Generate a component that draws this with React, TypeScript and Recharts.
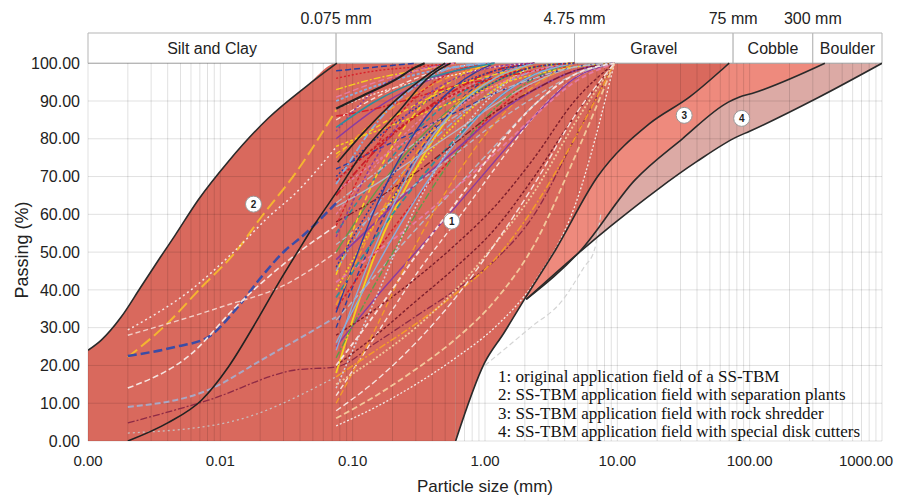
import { ComposedChart, Area, Line, XAxis, YAxis, ReferenceLine, ReferenceArea, ReferenceDot } from 'recharts'

type Pt = [number, number]

const X_TICKS = [0.001, 0.01, 0.1, 1, 10, 100, 1000]
const Y_TICKS = [0, 10, 20, 30, 40, 50, 60, 70, 80, 90, 100]
const SIEVES = [0.075, 0.15, 0.3, 0.6, 1.18, 2.36, 4.75, 9.5]

// soil classes shown in the header band (mm)
const CLASS_NAMES = ['Silt and Clay', 'Sand', 'Gravel', 'Cobble', 'Boulder']
const CLASS_LIMITS = [0.001, 0.075, 4.75, 75, 300, 1000]
const LIMIT_LABELS = ['0.075 mm', '4.75 mm', '75 mm', '300 mm']

// boundaries of the application fields
const field2Upper: Pt[] = [
  [0.001, 24], [0.00126, 26.7], [0.00178, 32.8], [0.0025, 40.7], [0.0035, 48.5], [0.00456, 54.5],
  [0.0068, 63.8], [0.0115, 74], [0.0231, 85.5], [0.044, 93.7], [0.076, 100],
]
const field1Lower: Pt[] = [
  [0.6, 0], [0.99, 20.6], [1.39, 28.6], [1.97, 37.3], [3.4, 50.5], [7.1, 70], [17.5, 84], [35, 91], [65, 99], [70, 100],
]
const field3Lower: Pt[] = [
  [2.05, 37.5], [5.3, 50.5], [13.5, 69], [31, 80], [69, 89.7], [83, 91], [104, 92], [370, 100],
]
const field4Lower: Pt[] = [
  [2.05, 37.5], [5.6, 51], [9, 57], [20, 66.5], [40, 74], [80, 80.5], [100, 82], [333, 91], [1000, 100],
]

// black grading curves
const blackCurves: Pt[][] = [
  [[0.002, 0], [0.004, 4.8], [0.0072, 10.8], [0.0115, 19.6], [0.0184, 31.2], [0.0275, 41.8], [0.039, 50.5],
    [0.052, 57.5], [0.076, 66], [0.12, 76.5], [0.22, 87], [0.39, 96.8], [0.55, 100]],
  [[0.077, 73.8], [0.121, 81.7], [0.219, 90.7], [0.31, 95], [0.45, 99], [0.5, 100]],
  [[0.075, 88], [0.121, 91.5], [0.219, 96], [0.29, 98.7], [0.35, 100]],
]

// fine-grained soils (silt / clay) curves
const siltCurves: Pt[][] = [
  [[0.002, 22.2], [0.004, 31.2], [0.0072, 40.7], [0.013, 50], [0.0204, 59.3], [0.037, 70.9], [0.075, 87.6]],
  [[0.002, 22.5], [0.00456, 24.9], [0.0081, 27.5], [0.013, 34.7], [0.0204, 43.4], [0.031, 50.5], [0.041, 54], [0.075, 63]],
  [[0.002, 29.4], [0.006, 40], [0.013, 50.5], [0.0231, 59.3], [0.037, 65.6], [0.075, 77.8]],
  [[0.002, 28], [0.01, 35.4], [0.0327, 41.8], [0.075, 50]],
  [[0.002, 14], [0.006, 23], [0.013, 35.4], [0.0204, 41.8], [0.041, 50.5], [0.075, 57]],
  [[0.002, 9], [0.0081, 13.5], [0.0204, 21.4], [0.075, 32.8]],
  [[0.002, 4.8], [0.0081, 10.8], [0.037, 18.8], [0.075, 19.6], [0.15, 26], [0.3, 33], [0.6, 40], [1.2, 48], [2.36, 60], [4.75, 80], [9.5, 100]],
  [[0.002, 2.1], [0.011, 4.8], [0.075, 17]],
]
const siltColors = ['#f4b531', '#3b4ca6', '#f3e6e3', '#f1cfc8', '#f4e4e0', '#a9a8c4', '#8e2a45', '#c9bcbc']
const siltDashes = ['12 5', '9 4', '2 3', '5 3', '6 3', '6 3', '7 2 2 2', '2 3']
const siltWidths = [2, 2.5, 1.5, 1.4, 1.6, 2, 1.3, 1.3]

// sand curves: passing (%) at each sieve in SIEVES
const sandPassing: number[][] = [
  [18, 50, 72, 88, 96, 100],
  [12, 28, 44, 58, 72, 86, 96, 100],
  [20, 28, 37, 46, 56, 70, 86, 100],
  [17, 24, 31, 39, 48, 62, 80, 100],
  [4, 9, 15, 22, 30, 42, 62, 100],
  [6, 12, 19, 27, 37, 52, 75, 100],
  [25, 38, 50, 62, 74, 86, 96, 100],
  [30, 55, 75, 89, 97, 100],
  [35, 50, 64, 76, 87, 95, 100],
  [45, 62, 75, 85, 93, 98, 100],
  [40, 58, 72, 84, 93, 99, 100],
  [32, 44, 56, 67, 78, 89, 97, 100],
  [50, 66, 79, 89, 95, 99, 100],
  [55, 70, 82, 91, 97, 100],
  [60, 73, 84, 92, 97, 100],
  [65, 77, 86, 93, 98, 100],
  [70, 80, 88, 94, 98, 100],
  [75, 85, 92, 97, 100],
  [80, 88, 94, 98, 100],
  [85, 91, 96, 99, 100],
  [90, 94, 97, 99, 100],
  [93, 96, 98, 100],
  [96, 98, 99, 100],
  [98, 99, 100],
  [62, 68, 75, 82, 89, 95, 99, 100],
  [42, 50, 58, 67, 76, 86, 95, 100],
  [28, 35, 43, 52, 62, 75, 90, 100],
  [22, 42, 60, 76, 88, 96, 100],
  [14, 38, 62, 80, 92, 99, 100],
  [10, 30, 52, 70, 84, 94, 100],
  [48, 58, 68, 77, 86, 93, 98, 100],
  [72, 77, 82, 87, 92, 96, 99, 100],
  [78, 82, 86, 90, 94, 97, 99, 100],
  [86, 88, 91, 94, 96, 98, 100],
  [88, 92, 95, 97, 99, 100],
  [38, 54, 68, 80, 90, 97, 100],
  [26, 46, 64, 79, 90, 97, 100],
  [52, 60, 68, 76, 84, 91, 97, 100],
  [66, 74, 81, 88, 94, 98, 100],
  [58, 64, 71, 79, 87, 93, 98, 100],
  [15, 22, 30, 40, 52, 66, 84, 100],
  [8, 16, 26, 38, 52, 68, 86, 100],
  [34, 62, 82, 94, 100],
  [44, 70, 87, 96, 100],
  [57, 78, 91, 98, 100],
  [68, 84, 94, 99, 100],
  [82, 93, 98, 100],
  [91, 95, 98, 100],
  [83, 90, 95, 98, 100],
  [76, 83, 89, 94, 97, 99, 100],
  [69, 78, 86, 92, 96, 99, 100],
  [63, 71, 79, 86, 92, 96, 99, 100],
  [46, 64, 78, 88, 95, 99, 100],
  [36, 58, 76, 89, 96, 100],
  [24, 52, 74, 88, 96, 100],
  [20, 34, 49, 63, 77, 89, 97, 100],
  [54, 75, 89, 96, 99, 100],
]
const sandColors = [
  '#f4d21f', '#f6e1dc', '#7d1e2c', '#f39c2a', '#f3ece8', '#f2c79a', '#8b3c9f', '#2c3f9f', '#d8202a', '#86aede',
  '#f4d21f', '#b7b7c4', '#5f9b4b', '#2f8e9c', '#e57ca3', '#c81e2a', '#2c3f9f', '#f39c2a', '#8b3c9f', '#f6e1dc',
  '#86aede', '#f4d21f', '#d8202a', '#2c3f9f', '#b7b7c4', '#e57ca3', '#7d1e2c', '#5f9b4b', '#d0d0da', '#f39c2a',
  '#8b3c9f', '#2c3f9f', '#f4d21f', '#d8202a', '#f6e1dc', '#2f8e9c', '#86aede', '#b7b7c4', '#e57ca3', '#7d1e2c',
  '#f2c79a', '#f6e1dc', '#2c3f9f', '#f4d21f', '#d8202a', '#86aede', '#8b3c9f', '#e57ca3', '#2f8e9c', '#f4d21f',
  '#c81e2a', '#b7b7c4', '#2c3f9f', '#f39c2a', '#86aede', '#f6e1dc', '#8b3c9f',
]
const DASHES = ['', '5 3', '3 2', '7 2 2 2', '2 2', '6 3']
const WIDTHS = [1.8, 1.4, 1.4, 1.5, 1.3]

// faint curve outside the fields
const outsideCurve: Pt[] = [[1.0, 20], [2.2, 30], [3.8, 37], [5.6, 46], [6.7, 50.5], [7.5, 60]]

const FIELD_TAGS = ['1', '2', '3', '4']
const TAG_X = [0.56, 0.0178, 32, 87]
const TAG_Y = [58.2, 62.7, 86.2, 85.4]

const LEGEND = [
  '1: original application field of a SS-TBM',
  '2: SS-TBM application field with separation plants',
  '3: SS-TBM application field with rock shredder',
  '4: SS-TBM application field with special disk cutters',
]

const FONT = '"Liberation Sans", Arial, sans-serif'
const W = 886
const H = 489
const RED = '#d9695d'

const pts = (a: Pt[]) => a.map(([x, y]) => ({ x, y }))
const toTop = (a: Pt[]) => a.map(([x, y]) => ({ x, v: [y, 100] }))

const fieldRedLeft: Pt[] = [...field2Upper, [0.6, 100]]
const minorX: number[] = []
for (let d = 0.001; d < 999; d *= 10) for (let m = 1; m <= 9; m++) minorX.push(+(d * m).toPrecision(3))
minorX.push(1000)

function XTick(props: any) {
  const { x, y, payload } = props
  const v = Number(payload.value)
  return (
    <text x={v >= 1000 ? x - 12 : x} y={y} dy="0.71em" textAnchor="middle" fontSize={15} fill="#222" fontFamily={FONT}>
      {v.toFixed(2)}
    </text>
  )
}

export default function App() {
  return (
    <div style={{ position: 'relative', width: W, height: H, fontFamily: FONT }}>
      <ComposedChart width={W} height={H} margin={{ top: 25, right: 12, bottom: 26, left: 9 }}>
        <XAxis
          type="number" dataKey="x" scale="log" domain={[0.001, 1000]} ticks={X_TICKS} allowDataOverflow
          axisLine={false} tickLine={false} tickSize={6} tickMargin={8} height={30} tick={<XTick />}
          label={{ value: 'Particle size (mm)', position: 'bottom', offset: 9, fontSize: 17, fill: '#222', fontFamily: FONT }}
        />
        <YAxis
          type="number" domain={[0, 108]} ticks={Y_TICKS} allowDataOverflow width={71}
          tickFormatter={(v) => Number(v).toFixed(2)} axisLine={false} tickLine={false} tickSize={6} tickMargin={2}
          tick={{ fontSize: 16, fill: '#222', fontFamily: FONT }}
        />

        <Area data={toTop(field4Lower)} dataKey="v" type="monotone" fill="#dcaaa5" fillOpacity={1} stroke="none" isAnimationActive={false} />
        <Area data={toTop(field3Lower)} dataKey="v" type="monotone" fill="#ee8a7d" fillOpacity={1} stroke="none" isAnimationActive={false} />
        <Area data={toTop(field1Lower)} dataKey="v" type="monotone" fill={RED} fillOpacity={1} stroke="none" isAnimationActive={false} />
        <Area data={pts(fieldRedLeft)} dataKey="y" type="monotone" fill={RED} fillOpacity={1} stroke="none" isAnimationActive={false} />

        {Y_TICKS.map((v) => (
          <ReferenceLine key={'h' + v} y={v} stroke="rgba(0,0,0,0.12)" strokeWidth={1} />
        ))}
        {minorX.map((v) => (
          <ReferenceLine key={'g' + v} segment={[{ x: v, y: 0 }, { x: v, y: 100 }]} stroke="rgba(0,0,0,0.12)" strokeWidth={1} />
        ))}

        <Line data={pts(outsideCurve)} dataKey="y" type="monotone" stroke="#d4d4d4" strokeWidth={1.2} strokeDasharray="5 3" dot={false} activeDot={false} isAnimationActive={false} />
        {siltCurves.map((c, i) => (
          <Line key={'s' + i} data={pts(c)} dataKey="y" type="monotone" stroke={siltColors[i]} strokeWidth={siltWidths[i]}
            strokeDasharray={siltDashes[i]} dot={false} activeDot={false} isAnimationActive={false} />
        ))}
        {sandPassing.map((row, i) => (
          <Line key={'c' + i} data={row.map((y, j) => ({ x: SIEVES[j], y }))} dataKey="y" type="monotone"
            stroke={sandColors[i % sandColors.length]} strokeWidth={WIDTHS[i % WIDTHS.length]}
            strokeDasharray={DASHES[i % DASHES.length]} dot={false} activeDot={false} isAnimationActive={false} />
        ))}
        {blackCurves.map((c, i) => (
          <Line key={'k' + i} data={pts(c)} dataKey="y" type="monotone" stroke="#222" strokeWidth={i === 2 ? 2.2 : 1.6}
            dot={false} activeDot={false} isAnimationActive={false} />
        ))}
        {[field2Upper, field1Lower, field3Lower, field4Lower].map((c, i) => (
          <Line key={'b' + i} data={pts(c)} dataKey="y" type="monotone" stroke="#2a2a2a" strokeWidth={1.6}
            dot={false} activeDot={false} isAnimationActive={false} />
        ))}

        {CLASS_NAMES.map((name, i) => (
          <ReferenceArea key={name} x1={CLASS_LIMITS[i]} x2={CLASS_LIMITS[i + 1]} y1={100} y2={108} fill="#fff" fillOpacity={1}
            stroke="#b5b5b5" strokeWidth={1} ifOverflow="visible"
            label={{ value: name, position: 'center', fontSize: 16, fill: '#222', fontFamily: FONT }} />
        ))}
        {LIMIT_LABELS.map((t, i) => (
          <ReferenceDot key={t} x={CLASS_LIMITS[i + 1]} y={108} r={1} fill="none" stroke="none" ifOverflow="visible"
            label={{ value: t, position: 'top', offset: 8, fontSize: 16, fill: '#222', fontFamily: FONT }} />
        ))}
        {FIELD_TAGS.map((t, i) => (
          <ReferenceDot key={'t' + t} x={TAG_X[i]} y={TAG_Y[i]} r={8} fill="#fff" stroke="#999" strokeWidth={1}
            label={{ value: t, position: 'center', fontSize: 10, fontWeight: 700, fill: '#222', fontFamily: FONT }} />
        ))}
      </ComposedChart>
      <div style={{ position: 'absolute', left: 14, top: 242, transform: 'translate(-50%, -50%) rotate(-90deg)', fontSize: 18, color: '#222', whiteSpace: 'nowrap' }}>
        Passing (%)
      </div>
      <div style={{ position: 'absolute', left: 490, top: 360, fontFamily: '"Liberation Serif", "Times New Roman", serif', fontSize: 17, lineHeight: '18.4px', color: '#111', whiteSpace: 'nowrap' }}>
        {LEGEND.map((t) => (
          <div key={t}>{t}</div>
        ))}
      </div>
    </div>
  )
}
